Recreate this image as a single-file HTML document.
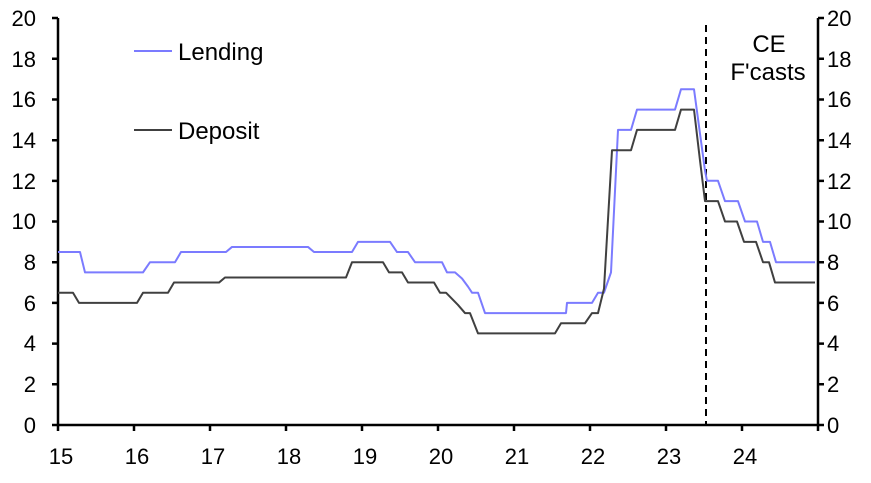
<!DOCTYPE html>
<html><head><meta charset="utf-8"><style>
html,body{margin:0;padding:0;background:#fff;}
svg{display:block;font-family:"Liberation Sans",sans-serif;}
</style></head><body>
<svg width="871" height="483" viewBox="0 0 871 483">
<g font-size="22" fill="#000">
<g text-anchor="end">
<text x="36" y="433">0</text><text x="36" y="392">2</text><text x="36" y="351">4</text><text x="36" y="311">6</text><text x="36" y="270">8</text><text x="36" y="229">10</text><text x="36" y="189">12</text><text x="36" y="148">14</text><text x="36" y="107">16</text><text x="36" y="67">18</text><text x="36" y="26">20</text>
</g>
<g text-anchor="start">
<text x="827" y="433">0</text><text x="827" y="392">2</text><text x="827" y="351">4</text><text x="827" y="311">6</text><text x="827" y="270">8</text><text x="827" y="229">10</text><text x="827" y="189">12</text><text x="827" y="148">14</text><text x="827" y="107">16</text><text x="827" y="67">18</text><text x="827" y="26">20</text>
</g>
<g text-anchor="middle">
<text x="61" y="464">15</text><text x="137" y="464">16</text><text x="213" y="464">17</text><text x="289" y="464">18</text><text x="365" y="464">19</text><text x="441" y="464">20</text><text x="517" y="464">21</text><text x="593" y="464">22</text><text x="669" y="464">23</text><text x="745" y="464">24</text>
</g>
</g>
<g font-size="24" fill="#000">
<text x="769" y="52" text-anchor="middle">CE</text><text x="768" y="80" text-anchor="middle">F'casts</text>
<text x="178" y="60">Lending</text>
<text x="178" y="139">Deposit</text>
</g>
<line x1="134" y1="51" x2="172" y2="51" stroke="#7b7bff" stroke-width="2"/>
<line x1="134" y1="130" x2="172" y2="130" stroke="#404040" stroke-width="2"/>
<g stroke="#000" stroke-width="2.5" fill="none">
<path d="M58 18V425H818V18"/>
<path d="M52 425H58M52 384.3H58M52 343.6H58M52 302.9H58M52 262.2H58M52 221.5H58M52 180.9H58M52 140.2H58M52 99.5H58M52 58.8H58M52 18H58"/>
<path d="M818 425H824M818 384.3H824M818 343.6H824M818 302.9H824M818 262.2H824M818 221.5H824M818 180.9H824M818 140.2H824M818 99.5H824M818 58.8H824M818 18H824"/>
<path d="M58 425V431M134 425V431M210 425V431M286 425V431M362 425V431M438 425V431M514 425V431M590 425V431M666 425V431M742 425V431M818 425V431"/>
</g>
<line x1="706" y1="25" x2="706" y2="425" stroke="#000" stroke-width="2" stroke-dasharray="7,5"/>
<g transform="translate(0,425) scale(1,-20.35)" fill="none" stroke-width="2" stroke-linejoin="round">
<polyline vector-effect="non-scaling-stroke" stroke="#7b7bff" points="58,8.5 80,8.5 85,7.5 143,7.5 150,8 175,8 181,8.5 226,8.5 232,8.75 308,8.75 314,8.5 352,8.5 358,9 390,9 397,8.5 408,8.5 415,8 442,8 447,7.5 455,7.5 462,7.2 468,6.8 472,6.5 478,6.5 485,5.5 566,5.5 567,6 592,6 598,6.5 604,6.5 611,7.5 618,14.5 631,14.5 637,15.5 675,15.5 681,16.5 694,16.5 705,12.5 707,12 718,12 725,11 738,11 745,10 757,10 763,9 770,9 776,8 815,8"/>
<polyline vector-effect="non-scaling-stroke" stroke="#404040" points="58,6.5 73,6.5 79,6 137,6 143,6.5 168,6.5 174,7 219,7 225,7.25 346,7.25 352,8 383,8 389,7.5 402,7.5 408,7 434,7 440,6.5 446,6.5 452,6.2 458,5.9 465,5.5 470,5.5 478,4.5 555,4.5 561,5 585,5 592,5.5 598,5.5 604,6.7 612,13.5 631,13.5 637,14.5 675,14.5 681,15.5 694,15.5 700,13 705,11 718,11 725,10 737,10 744,9 756,9 763,8 769,8 775,7 815,7"/>
</g>
</svg>
</body></html>
